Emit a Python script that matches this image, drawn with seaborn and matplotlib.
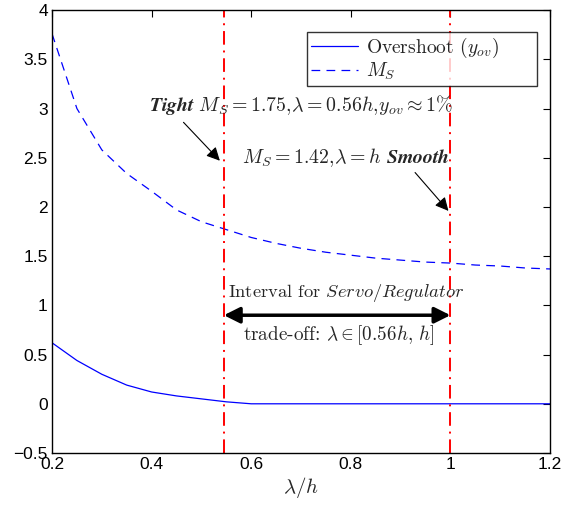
import numpy as np
import pandas as pd
import matplotlib
matplotlib.use("Agg")
import matplotlib.pyplot as plt
import seaborn as sns

lam = [0.2, 0.25, 0.3, 0.35, 0.4, 0.45, 0.5, 0.55, 0.6, 0.65, 0.7, 0.75,
       0.8, 0.85, 0.9, 0.95, 1.0, 1.05, 1.1, 1.15, 1.2]
overshoot = [0.62, 0.44, 0.30, 0.19, 0.12, 0.08, 0.05, 0.02, 0.0, 0.0, 0.0, 0.0,
             0.0, 0.0, 0.0, 0.0, 0.0, 0.0, 0.0, 0.0, 0.0]
ms = [3.76, 3.00, 2.58, 2.34, 2.16, 1.97, 1.85, 1.77, 1.69, 1.63, 1.58, 1.54,
      1.51, 1.48, 1.46, 1.44, 1.43, 1.41, 1.40, 1.38, 1.37]
vlines = [0.545, 1.0]
xticks = [0.2, 0.4, 0.6, 0.8, 1.0, 1.2]
xticklabels = ["0.2", "0.4", "0.6", "0.8", "1", "1.2"]
yticks = [-0.5, 0, 0.5, 1, 1.5, 2, 2.5, 3, 3.5, 4]
yticklabels = ["\u22120.5", "0", "0.5", "1", "1.5", "2", "2.5", "3", "3.5", "4"]

df = pd.DataFrame({"lam": lam, "overshoot": overshoot, "ms": ms})

sns.set_style("white")
plt.rcParams["font.family"] = ["Liberation Sans", "DejaVu Sans"]
plt.rcParams["mathtext.fontset"] = "cm"

fig = plt.figure(figsize=(5.63, 5.07), dpi=100)
ax = fig.add_axes([0.0924, 0.1065, 0.8846, 0.8735])

sns.lineplot(data=df, x="lam", y="overshoot", ax=ax, color="#0000ff", lw=0.9,
             label="Overshoot ($y_{ov}$)")
sns.lineplot(data=df, x="lam", y="ms", ax=ax, color="#0000ff", lw=0.9,
             dashes=False, label="$M_S$")
ax.lines[1].set_dashes((7, 5))

for v in vlines:
    ax.axvline(v, color="#ff0000", lw=1.4, linestyle=(0, (7, 3, 1, 3)))

ax.set_xlim(0.2, 1.2)
ax.set_ylim(-0.5, 4)
ax.set_xticks(xticks)
ax.set_xticklabels(xticklabels)
ax.set_yticks(yticks)
ax.set_yticklabels(yticklabels)
ax.tick_params(direction="in", top=True, right=True, length=5, width=0.8,
               labelsize=12.5, pad=3, colors="black")
for s in ax.spines.values():
    s.set_color("black")
    s.set_linewidth(1.0)
ax.set_xlabel(r"$\lambda/h$", fontsize=15, labelpad=2)
ax.set_ylabel("")

cm = "cmr10"
ax.text(0.70, 3.04, r"$\mathbfit{Tight}\ M_S=1.75,\!\lambda=0.56h,\!y_{ov}\approx1\%$",
        ha="center", va="center", fontsize=14.3)
ax.annotate("", xy=(0.537, 2.47), xytext=(0.464, 2.86),
            arrowprops=dict(arrowstyle="-|>", color="black", lw=0.8,
                            mutation_scale=20, shrinkA=0, shrinkB=0))
ax.text(0.79, 2.5, r"$M_S=1.42,\!\lambda=h\ \mathbfit{Smooth}$",
        ha="center", va="center", fontsize=14.3)
ax.annotate("", xy=(0.996, 1.96), xytext=(0.929, 2.35),
            arrowprops=dict(arrowstyle="-|>", color="black", lw=0.8,
                            mutation_scale=20, shrinkA=0, shrinkB=0))
ax.annotate("", xy=(0.545, 0.90), xytext=(1.0, 0.90),
            arrowprops=dict(arrowstyle="<|-|>", color="black", lw=2.5,
                            mutation_scale=24, shrinkA=0, shrinkB=0))
ax.text(0.79, 1.13, r"Interval for $\mathit{Servo/Regulator}$",
        ha="center", va="center", fontsize=13.3, family=cm)
ax.text(0.775, 0.70, r"trade-off: $\lambda\in[0.56h,\,h]$",
        ha="center", va="center", fontsize=13.8, family=cm)

handles, labels = ax.get_legend_handles_labels()
labels = [labels[0] + "      ", labels[1]]
leg = ax.legend(handles, labels, loc="upper right", bbox_to_anchor=(0.973, 0.951),
                borderaxespad=0, frameon=True,
                fancybox=False, edgecolor="black",
                prop={"family": cm, "size": 14}, handlelength=2.4,
                borderpad=0.2, labelspacing=0.05, handletextpad=0.4)
leg.get_frame().set_linewidth(1.0)

fig.savefig("out.png", dpi=100)
